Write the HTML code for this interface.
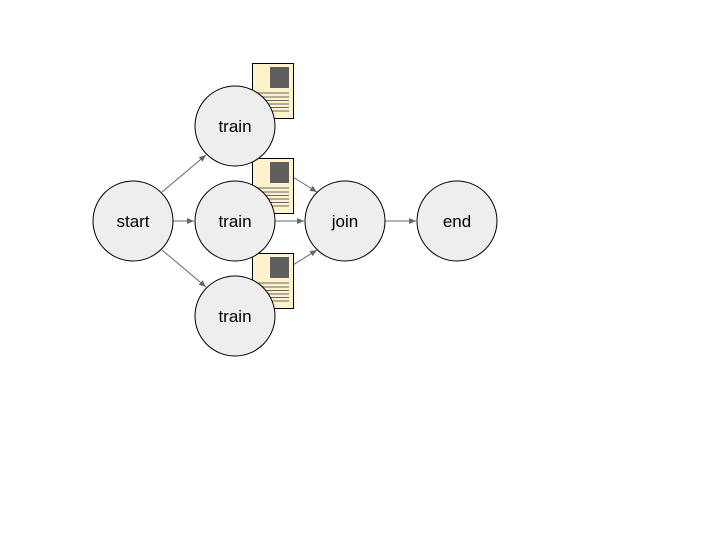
<!DOCTYPE html>
<html><head><style>body{margin:0;background:#fff}</style></head><body>
<svg width="720" height="540" xmlns="http://www.w3.org/2000/svg" font-family="Liberation Sans, sans-serif">
<defs><marker id="a" markerWidth="8" markerHeight="8" refX="7" refY="4" orient="auto" markerUnits="userSpaceOnUse"><path d="M0,1 L7,4 L0,7 z" fill="#666"/></marker></defs>
<g stroke="#666" stroke-width="1" fill="none" marker-end="url(#a)">
<line x1="162" y1="192" x2="206" y2="155"/>
<line x1="173" y1="221" x2="194" y2="221"/>
<line x1="162" y1="250" x2="206" y2="287"/>
<line x1="275" y1="221" x2="304" y2="221"/>
<line x1="264" y1="159" x2="317" y2="192"/>
<line x1="264" y1="283" x2="317" y2="250"/>
<line x1="385" y1="221" x2="416" y2="221"/>
</g>
<g id="d">
<rect x="252.5" y="63.5" width="41" height="55" fill="#fff2cc" stroke="#000"/>
<rect x="270" y="67" width="19" height="21" fill="#5f5f5f"/>
<g stroke="#666"><line x1="256" y1="93" x2="289" y2="93"/><line x1="256" y1="97" x2="289" y2="97"/><line x1="256" y1="100.5" x2="289" y2="100.5"/><line x1="256" y1="104" x2="289" y2="104"/><line x1="256" y1="107.5" x2="289" y2="107.5"/><line x1="256" y1="111" x2="289" y2="111"/></g>
</g>
<use href="#d" y="95"/>
<use href="#d" y="190"/>
<g fill="#eeeeee" stroke="#000" stroke-width="1">
<circle cx="133" cy="221" r="40"/>
<circle cx="235" cy="126" r="40"/>
<circle cx="235" cy="221" r="40"/>
<circle cx="235" cy="316" r="40"/>
<circle cx="345" cy="221" r="40"/>
<circle cx="457" cy="221" r="40"/>
</g>
<g font-size="17" text-anchor="middle" fill="#000">
<text x="133" y="227">start</text>
<text x="235" y="132">train</text>
<text x="235" y="227">train</text>
<text x="235" y="322">train</text>
<text x="345" y="227">join</text>
<text x="457" y="227">end</text>
</g>
</svg>
</body></html>
